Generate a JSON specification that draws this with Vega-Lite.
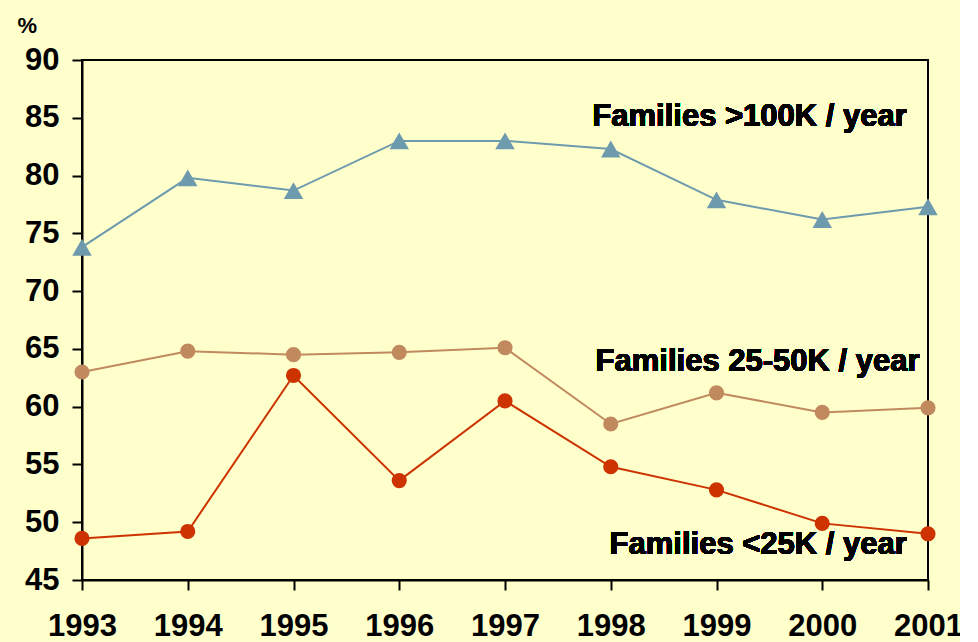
{
  "$schema": "https://vega.github.io/schema/vega-lite/v6.json",
  "autosize": {"type": "none"},
  "width": 846,
  "height": 520,
  "padding": {"left": 82, "top": 60, "right": 32, "bottom": 62},
  "background": "#FFFFCC",
  "config": {
    "font": "Liberation Sans",
    "view": {"stroke": "black", "strokeWidth": 2},
    "axis": {
      "domainColor": "black", "domainWidth": 2, "tickColor": "black", "tickWidth": 2,
      "tickSize": 10, "grid": false, "labelFont": "Liberation Sans", "labelFontWeight": "bold",
      "labelFontSize": 31, "labelColor": "black"
    }
  },
  "data": {
    "values": [
      {"year": 1993, "series": "high", "value": 73.8},
      {"year": 1994, "series": "high", "value": 79.8},
      {"year": 1995, "series": "high", "value": 78.7},
      {"year": 1996, "series": "high", "value": 83.0},
      {"year": 1997, "series": "high", "value": 83.0},
      {"year": 1998, "series": "high", "value": 82.3},
      {"year": 1999, "series": "high", "value": 77.9},
      {"year": 2000, "series": "high", "value": 76.2},
      {"year": 2001, "series": "high", "value": 77.3},
      {"year": 1993, "series": "mid", "value": 63.0},
      {"year": 1994, "series": "mid", "value": 64.8},
      {"year": 1995, "series": "mid", "value": 64.5},
      {"year": 1996, "series": "mid", "value": 64.7},
      {"year": 1997, "series": "mid", "value": 65.1},
      {"year": 1998, "series": "mid", "value": 58.5},
      {"year": 1999, "series": "mid", "value": 61.2},
      {"year": 2000, "series": "mid", "value": 59.5},
      {"year": 2001, "series": "mid", "value": 59.9},
      {"year": 1993, "series": "low", "value": 48.6},
      {"year": 1994, "series": "low", "value": 49.2},
      {"year": 1995, "series": "low", "value": 62.7},
      {"year": 1996, "series": "low", "value": 53.6},
      {"year": 1997, "series": "low", "value": 60.5},
      {"year": 1998, "series": "low", "value": 54.8},
      {"year": 1999, "series": "low", "value": 52.8},
      {"year": 2000, "series": "low", "value": 49.9},
      {"year": 2001, "series": "low", "value": 49.0}
    ]
  },
  "encoding": {
    "x": {
      "field": "year", "type": "quantitative",
      "scale": {"domain": [1993, 2001], "nice": false, "zero": false},
      "axis": {"title": null, "values": [1993, 1994, 1995, 1996, 1997, 1998, 1999, 2000, 2001], "format": "d", "labelPadding": 21, "labelFlush": false, "labelOverlap": false}
    },
    "y": {
      "field": "value", "type": "quantitative",
      "scale": {"domain": [45, 90], "nice": false, "zero": false},
      "axis": {
        "title": "%", "titleAngle": 0, "titleFont": "Liberation Sans", "titleFontWeight": "bold", "titleFontSize": 22,
        "titleColor": "black", "titleAlign": "left", "titleBaseline": "middle", "titleX": -65, "titleY": -35,
        "values": [45, 50, 55, 60, 65, 70, 75, 80, 85, 90], "labelPadding": 13
      }
    },
    "color": {
      "field": "series", "type": "nominal", "legend": null,
      "scale": {"domain": ["high", "mid", "low"], "range": ["#6E9AAE", "#C08A5E", "#CC3300"]}
    }
  },
  "layer": [
    {"mark": {"type": "line", "strokeWidth": 2}},
    {
      "transform": [{"filter": "datum.series === 'high'"}],
      "mark": {"type": "point", "shape": "triangle-up", "filled": true, "opacity": 1, "size": 380}
    },
    {
      "transform": [{"filter": "datum.series !== 'high'"}],
      "mark": {"type": "point", "shape": "circle", "filled": true, "opacity": 1, "size": 230}
    },
    {
      "mark": {"type": "text", "text": "Families >100K / year", "align": "right", "baseline": "middle", "font": "Liberation Sans", "fontWeight": "bold", "fontSize": 31},
      "encoding": {"x": {"datum": 2000.8}, "y": {"datum": 85.1}, "color": {"value": "black"}}
    },
    {
      "mark": {"type": "text", "text": "Families 25-50K / year", "align": "right", "baseline": "middle", "font": "Liberation Sans", "fontWeight": "bold", "fontSize": 31},
      "encoding": {"x": {"datum": 2000.92}, "y": {"datum": 63.9}, "color": {"value": "black"}}
    },
    {
      "mark": {"type": "text", "text": "Families <25K / year", "align": "right", "baseline": "middle", "font": "Liberation Sans", "fontWeight": "bold", "fontSize": 31},
      "encoding": {"x": {"datum": 2000.8}, "y": {"datum": 48.05}, "color": {"value": "black"}}
    }
  ]
}
